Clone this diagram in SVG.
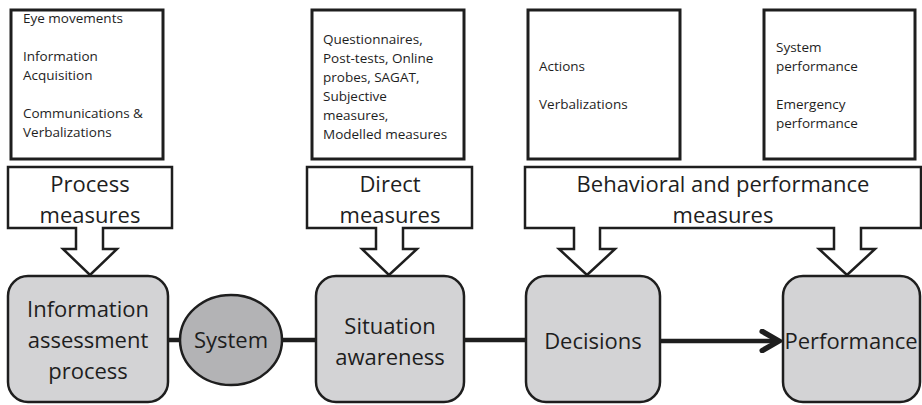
<svg xmlns="http://www.w3.org/2000/svg" width="922" height="405" viewBox="0 0 922 405">
  <defs>
    <style>
      text { font-family: "Open Sans", "Liberation Sans", sans-serif; fill: #1e1e1e; }
      .box { fill: #ffffff; stroke: #1e1e1e; stroke-width: 3; }
      .small { font-size: 13.5px; }
      .callout { fill: #ffffff; stroke: #1e1e1e; stroke-width: 2.5; stroke-linejoin: miter; }
      .big { font-size: 22px; text-anchor: middle; }
      .node { fill: #d3d3d5; stroke: #1e1e1e; stroke-width: 2.5; }
      .sys { fill: #b3b3b5; stroke: #1e1e1e; stroke-width: 2.5; }
      .link { stroke: #1e1e1e; stroke-width: 4.5; fill: none; }
    </style>
    <marker id="chev" markerUnits="userSpaceOnUse" markerWidth="24" markerHeight="24" refX="17" refY="10" orient="auto" viewBox="0 0 20 20">
      <path d="M3,2 L17,10 L3,18" fill="none" stroke="#1e1e1e" stroke-width="4.5" stroke-linecap="round" stroke-linejoin="miter"/>
    </marker>
  </defs>

  <!-- measure lists -->
  <g id="list-process">
    <rect class="box" x="11" y="10" width="152" height="149"/>
    <text class="small" x="23" y="23">Eye movements</text>
    <text class="small" x="23" y="61">Information</text>
    <text class="small" x="23" y="80">Acquisition</text>
    <text class="small" x="23" y="118">Communications &amp;</text>
    <text class="small" x="23" y="137">Verbalizations</text>
  </g>
  <g id="list-direct">
    <rect class="box" x="312" y="10" width="152" height="149"/>
    <text class="small" x="323" y="44">Questionnaires,</text>
    <text class="small" x="323" y="63">Post-tests, Online</text>
    <text class="small" x="323" y="82">probes, SAGAT,</text>
    <text class="small" x="323" y="101">Subjective</text>
    <text class="small" x="323" y="120">measures,</text>
    <text class="small" x="323" y="139">Modelled measures</text>
  </g>
  <g id="list-behavioral">
    <rect class="box" x="528" y="10" width="152" height="149"/>
    <text class="small" x="539" y="71">Actions</text>
    <text class="small" x="539" y="109">Verbalizations</text>
  </g>
  <g id="list-performance">
    <rect class="box" x="764" y="10" width="151" height="149"/>
    <text class="small" x="776" y="52">System</text>
    <text class="small" x="776" y="71">performance</text>
    <text class="small" x="776" y="109">Emergency</text>
    <text class="small" x="776" y="128">performance</text>
  </g>

  <!-- measure callouts with block arrows -->
  <g id="callout-process">
    <path class="callout" d="M8,167 H172 V228 H103 V249 H117 L90,275 L63,249 H76 V228 H8 Z"/>
    <text class="big" x="90" y="192">Process</text>
    <text class="big" x="90" y="223">measures</text>
  </g>
  <g id="callout-direct">
    <path class="callout" d="M307,167 H472 V228 H403 V249 H417 L389,275 L362,249 H376 V228 H307 Z"/>
    <text class="big" x="390" y="192">Direct</text>
    <text class="big" x="390" y="223">measures</text>
  </g>
  <g id="callout-behavioral">
    <path class="callout" d="M525,167 H921 V228 H861 V249 H875 L847,275 L819,249 H834 V228 H600 V249 H615 L587,275 L559,249 H574 V228 H525 Z"/>
    <text class="big" x="723" y="192">Behavioral and performance</text>
    <text class="big" x="723" y="223">measures</text>
  </g>

  <!-- connectors -->
  <g id="connectors">
    <line class="link" x1="168" y1="340" x2="181" y2="340"/>
    <line class="link" x1="282" y1="340" x2="317" y2="340"/>
    <line class="link" x1="464" y1="340" x2="527" y2="340"/>
    <line class="link" x1="660" y1="341" x2="779" y2="341" marker-end="url(#chev)"/>
  </g>

  <!-- process nodes -->
  <g id="node-information">
    <rect class="node" x="8" y="276" width="160" height="126" rx="20"/>
    <text class="big" x="88" y="317">Information</text>
    <text class="big" x="88" y="348">assessment</text>
    <text class="big" x="88" y="379">process</text>
  </g>
  <g id="node-system">
    <ellipse class="sys" cx="231" cy="340" rx="51" ry="45"/>
    <text class="big" x="231" y="348">System</text>
  </g>
  <g id="node-sa">
    <rect class="node" x="316" y="276" width="148" height="126" rx="20"/>
    <text class="big" x="390" y="334">Situation</text>
    <text class="big" x="390" y="365">awareness</text>
  </g>
  <g id="node-decisions">
    <rect class="node" x="526" y="276" width="134" height="126" rx="20"/>
    <text class="big" x="593" y="349">Decisions</text>
  </g>
  <g id="node-performance">
    <rect class="node" x="783" y="276" width="137" height="126" rx="20"/>
    <text class="big" x="851" y="349">Performance</text>
  </g>
</svg>
